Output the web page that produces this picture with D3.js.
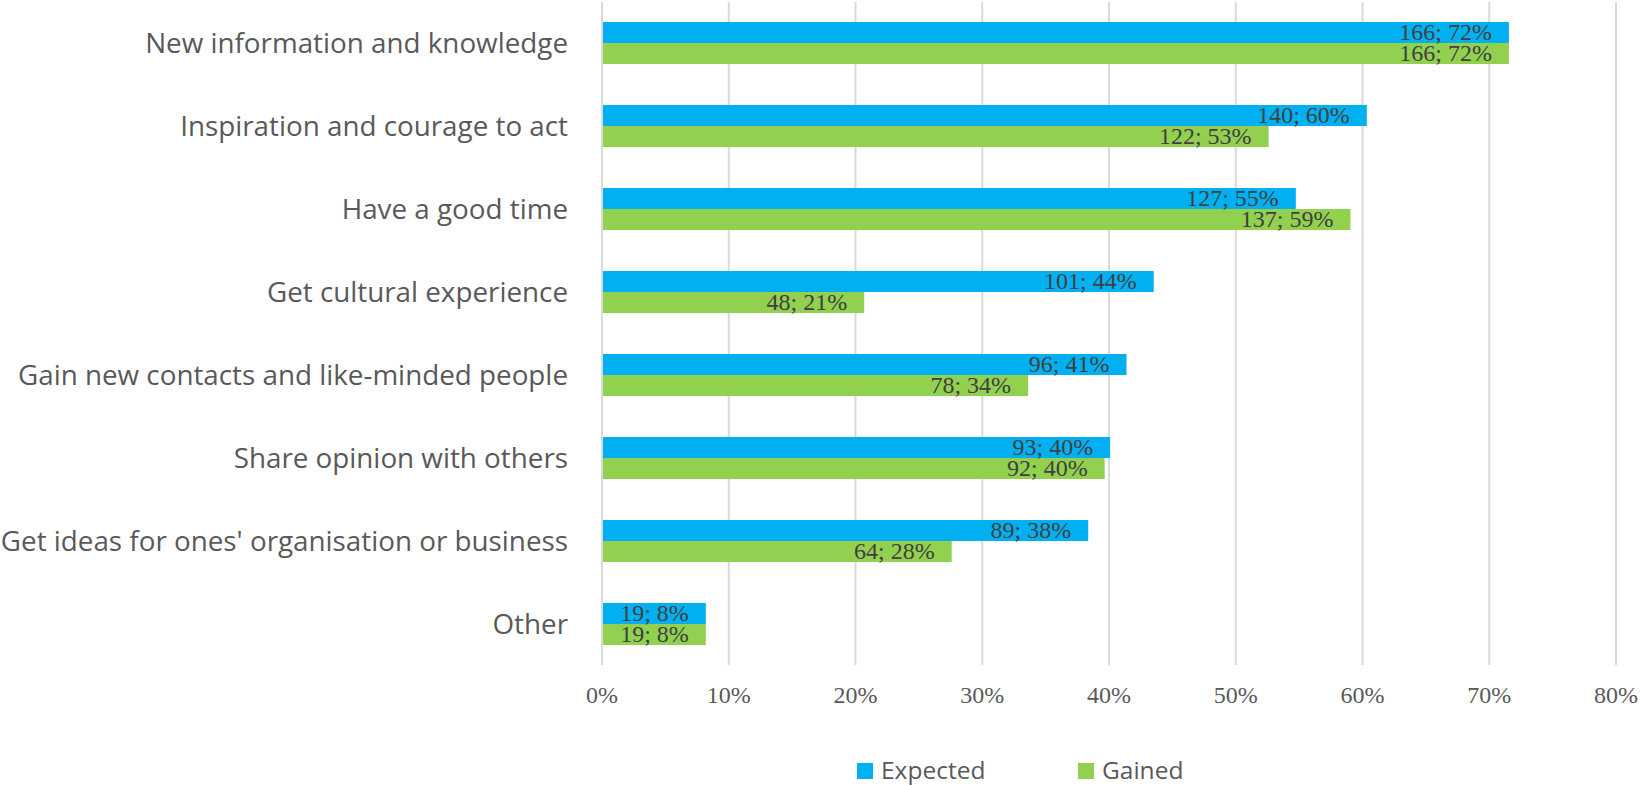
<!DOCTYPE html>
<html>
<head>
<meta charset="utf-8">
<script src="https://cdn.jsdelivr.net/npm/d3@7"></script>
<style>
  body { margin: 0; background: #fff; }
</style>
</head>
<body>
<div id="canvas"></div>
<script>
const categories = [
  "New information and knowledge",
  "Inspiration and courage to act",
  "Have a good time",
  "Get cultural experience",
  "Gain new contacts and like-minded people",
  "Share opinion with others",
  "Get ideas for ones' organisation or business",
  "Other"
];
const series = ["Expected", "Gained"];
const colors = ["#00B0F0", "#92D050"];

// share of respondents (%) and counts
const expectedPct = [71.55, 60.34, 54.74, 43.53, 41.38, 40.09, 38.36, 8.19];
const gainedPct = [71.55, 52.59, 59.05, 20.69, 33.62, 39.66, 27.59, 8.19];
const expectedCount = [166, 140, 127, 101, 96, 93, 89, 19];
const gainedCount = [166, 122, 137, 48, 78, 92, 64, 19];
const ticks = [0, 10, 20, 30, 40, 50, 60, 70, 80];

const width = 1646;
const height = 785;

const svg = d3.select("#canvas").append("svg")
  .attr("width", width)
  .attr("height", height);

const x = d3.scaleLinear().domain([0, 80]).range([602, 1616]);

const y = d3.scaleBand()
  .domain(categories)
  .range([1.5, 665.5])
  .paddingInner(0.494)
  .paddingOuter(0.247);

const y1 = d3.scaleBand()
  .domain(series)
  .range([0, y.bandwidth()]);

// gridlines
svg.append("g")
  .selectAll("line")
  .data(ticks)
  .enter().append("line")
  .attr("x1", d => x(d))
  .attr("x2", d => x(d))
  .attr("y1", 2)
  .attr("y2", 665)
  .style("stroke", "#d9d9d9")
  .style("stroke-width", 2);

// x tick labels
svg.append("g")
  .selectAll("text")
  .data(ticks)
  .enter().append("text")
  .attr("x", d => x(d))
  .attr("y", 703)
  .attr("text-anchor", "middle")
  .style("font-family", "'Liberation Serif', 'Times New Roman', serif")
  .style("font-size", "24px")
  .style("fill", "#595959")
  .text(d => d + "%");

// category labels
svg.append("g")
  .selectAll("text")
  .data(categories)
  .enter().append("text")
  .attr("x", 568)
  .attr("y", d => y(d) + y.bandwidth() / 2)
  .attr("dy", "0.36em")
  .attr("text-anchor", "end")
  .style("font-family", "'Open Sans', sans-serif")
  .style("font-size", "27.8px")
  .style("fill", "#595959")
  .text(d => d);

const rows = categories.map((c, i) => ({
  cat: c,
  vals: [
    { s: "Expected", pct: expectedPct[i], n: expectedCount[i] },
    { s: "Gained", pct: gainedPct[i], n: gainedCount[i] }
  ]
}));

const groups = svg.append("g")
  .selectAll("g")
  .data(rows)
  .enter().append("g")
  .attr("transform", d => `translate(0,${y(d.cat)})`);

groups.selectAll("rect")
  .data(d => d.vals)
  .enter().append("rect")
  .attr("x", x(0) + 1)
  .attr("y", d => y1(d.s))
  .attr("width", d => x(d.pct) - x(0) - 1)
  .attr("height", y1.bandwidth())
  .style("fill", d => colors[series.indexOf(d.s)]);

groups.selectAll("text")
  .data(d => d.vals)
  .enter().append("text")
  .attr("x", d => x(d.pct) - 17)
  .attr("y", d => y1(d.s) + y1.bandwidth() - 3)
  .attr("text-anchor", "end")
  .style("font-family", "'Liberation Serif', 'Times New Roman', serif")
  .style("font-size", "24px")
  .style("fill", "#404040")
  .text(d => d.n + "; " + Math.round(d.pct) + "%");

// legend
const legendX = [857, 1078];
const legend = svg.append("g")
  .selectAll("g")
  .data(series)
  .enter().append("g")
  .attr("transform", (d, i) => `translate(${legendX[i]},763)`);

legend.append("rect")
  .attr("width", 16)
  .attr("height", 16)
  .style("fill", (d, i) => colors[i]);

legend.append("text")
  .attr("x", 24)
  .attr("y", 16)
  .style("font-family", "'Open Sans', sans-serif")
  .style("font-size", "24.5px")
  .style("fill", "#595959")
  .text(d => d);
</script>
</body>
</html>
